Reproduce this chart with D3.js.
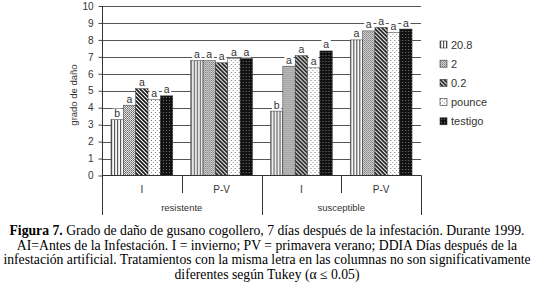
<!DOCTYPE html>
<html><head><meta charset="utf-8">
<script src="https://cdn.jsdelivr.net/npm/d3@7"></script>
<style>
body{margin:0;background:#fff;}
svg{display:block;}
.cap{font-family:"Liberation Serif","Times New Roman",serif;font-size:13.7px;fill:#000;}
</style></head>
<body><svg id="c" width="535" height="295"></svg>
<script>
const groups = ["resistente", "susceptible"];
const seasons = ["I", "P-V"];
const categories = ["resistente|I", "resistente|P-V", "susceptible|I", "susceptible|P-V"];
const series = ["20.8", "2", "0.2", "pounce", "testigo"];
const values = [
  [3.3, 4.15, 5.12, 4.5, 4.7],
  [6.77, 6.77, 6.65, 6.92, 6.9],
  [3.8, 6.45, 7.07, 6.35, 7.35],
  [8.0, 8.53, 8.74, 8.44, 8.64]
];
const letters = [
  ["b", "a", "a", "a", "a"],
  ["a", "a", "a", "a", "a"],
  ["b", "a", "a", "a", "a"],
  ["a", "a", "a", "a", "a"]
];
const yTicks = [0,1,2,3,4,5,6,7,8,9,10];
const caption = [
  [{t:"Figura 7.", b:true},{t:" Grado de daño de gusano cogollero, 7 días después de la infestación. Durante 1999."}],
  [{t:"AI=Antes de la Infestación. I = invierno; PV = primavera verano; DDIA Días después de la"}],
  [{t:"infestación artificial. Tratamientos con la misma letra en las columnas no son significativamente"}],
  [{t:"diferentes según Tukey (α ≤ 0.05)"}]
];

const svg = d3.select("#c");
const x0 = 102, x1 = 421, yTop = 6, yBot = 175.5;
const defs = svg.append("defs");

function pat(id, w, h, bg, fn){
  const p = defs.append("pattern").attr("id", id).attr("patternUnits","userSpaceOnUse")
    .attr("width", w).attr("height", h);
  p.append("rect").attr("width", w).attr("height", h).attr("fill", bg);
  fn(p);
}
pat("p0", 3, 3, "#fff", p => p.append("rect").attr("x",0).attr("width",1.2).attr("height",3).attr("fill","#555"));
pat("p1", 2, 2, "#e8e8e8", p => { p.append("rect").attr("x",0).attr("y",0).attr("width",1).attr("height",1).attr("fill","#666");
  p.append("rect").attr("x",1).attr("y",1).attr("width",1).attr("height",1).attr("fill","#888"); });
pat("p2", 4, 4, "#fff", p => {
  p.append("path").attr("d","M-1,-1 L5,5 M-1,3 L1,5 M3,-1 L5,1").attr("stroke","#111").attr("stroke-width",1.6);
});
pat("p3", 4, 4, "#fff", p => { p.append("rect").attr("x",0).attr("y",0).attr("width",1).attr("height",1).attr("fill","#777");
  p.append("rect").attr("x",2).attr("y",2).attr("width",1).attr("height",1).attr("fill","#999"); });
pat("p4", 3, 3, "#111", p => { p.append("rect").attr("x",1).attr("y",1).attr("width",1).attr("height",1).attr("fill","#777"); });
const fills = ["url(#p0)","url(#p1)","url(#p2)","url(#p3)","url(#p4)"];

const y = d3.scaleLinear().domain([0,10]).range([yBot, yTop]);
const xc = d3.scaleBand().domain(categories).range([x0, x1]).paddingInner(0.225).paddingOuter(0.1125);
const xs = d3.scaleBand().domain(series).range([0, xc.bandwidth()]);

svg.append("g").selectAll("line").data(yTicks.filter(d=>d>0)).join("line")
  .attr("x1", x0).attr("x2", x1).attr("y1", d=>Math.round(y(d))+0.5).attr("y2", d=>Math.round(y(d))+0.5)
  .attr("stroke", "#555").attr("stroke-width", 1);

const ya = svg.append("g").attr("transform", `translate(${x0+0.5},0)`)
  .call(d3.axisLeft(y).tickValues(yTicks).tickSize(4).tickPadding(5));
ya.select(".domain").remove();
ya.selectAll("line").attr("stroke","#444");
ya.selectAll("text").attr("font-family","Arial, 'Liberation Sans', sans-serif").attr("font-size","10px").attr("fill","#333");
svg.append("line").attr("x1", x0+0.5).attr("x2", x0+0.5).attr("y1", yTop).attr("y2", 215).attr("stroke","#333");

svg.append("text").attr("transform","translate(77,95) rotate(-90)").attr("text-anchor","middle")
  .attr("font-family","Arial, 'Liberation Sans', sans-serif").attr("font-size","9.5px").attr("fill","#333").text("grado de daño");

categories.forEach((c, ci) => {
  const g = svg.append("g").attr("transform", `translate(${xc(c)},0)`);
  g.selectAll("rect").data(values[ci]).join("rect")
    .attr("x", (d,i)=>xs(series[i])).attr("width", xs.bandwidth())
    .attr("y", d=>y(d)).attr("height", d=>yBot - y(d))
    .attr("fill", (d,i)=>fills[i]).attr("stroke","#333").attr("stroke-width",0.5);
  const lg = g.selectAll("g.l").data(values[ci]).join("g").attr("class","l");
  lg.append("rect").attr("x",(d,i)=>xs(series[i])+1.5).attr("width", xs.bandwidth()-3)
    .attr("y", d=>y(d)-11).attr("height", 10).attr("fill","#fff");
  lg.append("text").attr("x",(d,i)=>xs(series[i])+xs.bandwidth()/2).attr("y", d=>y(d)-2.5)
    .attr("text-anchor","middle").attr("font-family","Arial, 'Liberation Sans', sans-serif")
    .attr("font-size","10.5px").attr("fill","#333").text((d,i)=>letters[ci][i]);
});

svg.append("line").attr("x1", x0).attr("x2", x1+0.5).attr("y1", yBot).attr("y2", yBot).attr("stroke","#333");
categories.forEach((c, ci) => {
  const right = xc(c) + xc.bandwidth() + xc.step()*xc.paddingInner()/2;
  const long = ci % 2 === 1;
  svg.append("line").attr("x1", Math.round(right)+0.5).attr("x2", Math.round(right)+0.5)
    .attr("y1", yBot).attr("y2", long ? 215 : 193).attr("stroke","#333");
  svg.append("text").attr("x", xc(c)+xc.bandwidth()/2).attr("y", 193).attr("text-anchor","middle")
    .attr("font-family","Arial, 'Liberation Sans', sans-serif").attr("font-size","10px").attr("fill","#333")
    .text(seasons[ci%2]);
});
groups.forEach((gname, gi) => {
  const a = xc(categories[gi*2]), b = xc(categories[gi*2+1]) + xc.bandwidth();
  svg.append("text").attr("x", (a+b)/2).attr("y", 211).attr("text-anchor","middle")
    .attr("font-family","Arial, 'Liberation Sans', sans-serif").attr("font-size","9.5px").attr("fill","#333")
    .text(gname);
});

const leg = svg.append("g").attr("transform","translate(440,41)");
series.forEach((s,i) => {
  const it = leg.append("g").attr("transform", `translate(0,${i*19.2})`);
  it.append("rect").attr("width",7).attr("height",7).attr("fill", fills[i]).attr("stroke","#333").attr("stroke-width",0.6);
  it.append("text").attr("x",11).attr("y",7.5).attr("font-family","Arial, 'Liberation Sans', sans-serif")
    .attr("font-size","11px").attr("fill","#333").text(s);
});

const cy = [235, 249.5, 264, 278.5];
caption.forEach((line, li) => {
  const t = svg.append("text").attr("class","cap").attr("x", 267).attr("y", cy[li]).attr("text-anchor","middle");
  line.forEach(seg => t.append("tspan").attr("font-weight", seg.b ? "bold" : null).text(seg.t));
});
</script></body></html>
